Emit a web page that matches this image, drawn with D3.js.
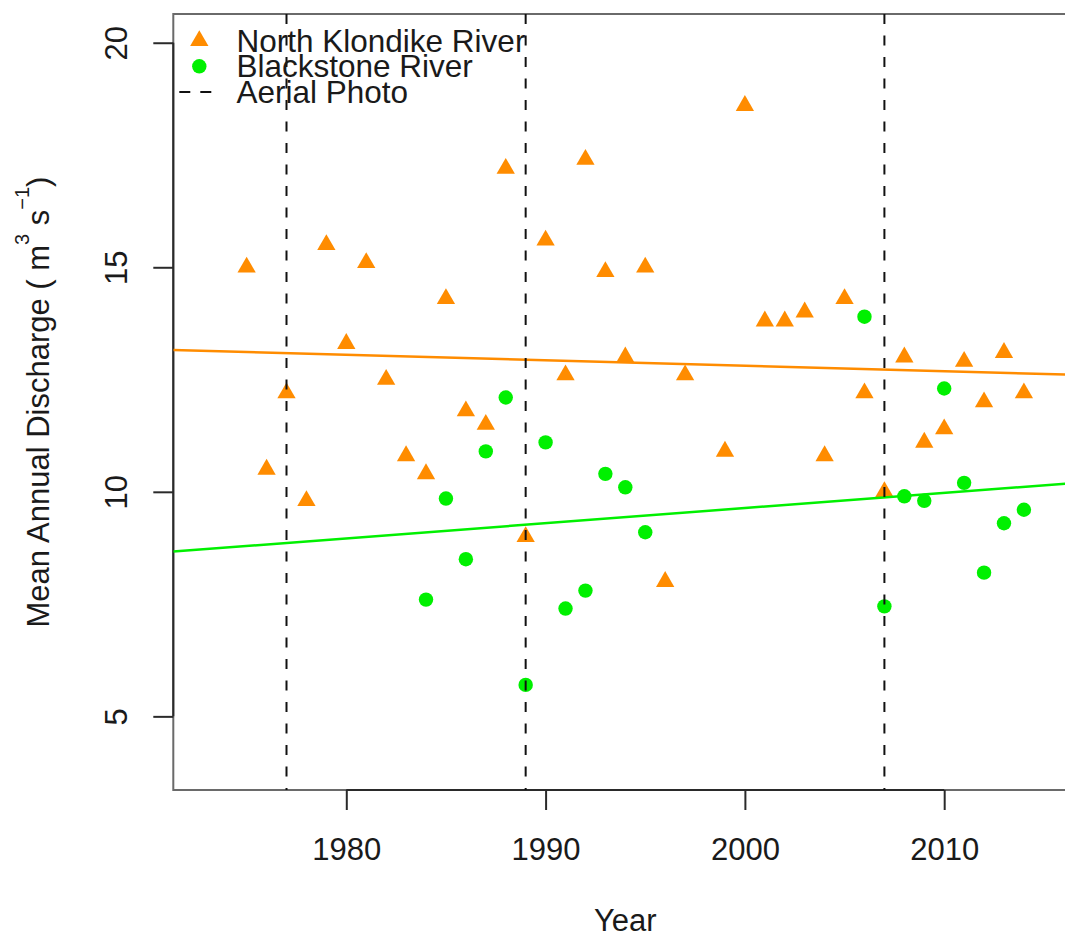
<!DOCTYPE html>
<html>
<head>
<meta charset="utf-8">
<script src="https://cdn.jsdelivr.net/npm/d3@7"></script>
<style>
  html, body { margin: 0; padding: 0; background: #ffffff; }
  svg { display: block; }
  text { font-family: "Liberation Sans", Arial, Helvetica, sans-serif; fill: #1a1a1a; }
</style>
</head>
<body>
<svg id="chart" width="1065" height="937"></svg>
<script>
// Mean annual discharge, North Klondike River (triangles)
const nkYears = [1975, 1976, 1977, 1978, 1979, 1980, 1981, 1982, 1983, 1984,
                 1985, 1986, 1987, 1988, 1989, 1990, 1991, 1992, 1993, 1994,
                 1995, 1996, 1997, 1999, 2000, 2001, 2002, 2003, 2004, 2005,
                 2006, 2007, 2008, 2009, 2010, 2011, 2012, 2013, 2014];
const nkFlow  = [15.0, 10.5, 12.2, 9.8, 15.5, 13.3, 15.1, 12.5, 10.8, 10.4,
                 14.3, 11.8, 11.5, 17.2, 9.0, 15.6, 12.6, 17.4, 14.9, 13.0,
                 15.0, 8.0, 12.6, 10.9, 18.6, 13.8, 13.8, 14.0, 10.8, 14.3,
                 12.2, 10.0, 13.0, 11.1, 11.4, 12.9, 12.0, 13.1, 12.2];

// Mean annual discharge, Blackstone River (circles)
const bsYears = [1984, 1985, 1986, 1987, 1988, 1989, 1990, 1991, 1992, 1993,
                 1994, 1995, 2006, 2007, 2008, 2009, 2010, 2011, 2012, 2013, 2014];
const bsFlow  = [7.6, 9.85, 8.5, 10.9, 12.1, 5.7, 11.1, 7.4, 7.8, 10.4,
                 10.1, 9.1, 13.9, 7.45, 9.9, 9.8, 12.3, 10.2, 8.2, 9.3, 9.6];

// Years with aerial photography
const photoYears = [1977, 1989, 2007];

// Axis limits and ticks
const xLimits = [1973, 2015];
const yLimits = [4, 20];
const xTicks = [1980, 1990, 2000, 2010];
const yTicks = [5, 10, 15, 20];

const legendLabels = ["North Klondike River", "Blackstone River", "Aerial Photo"];

const orange = "#ff8c00";
const green = "#00f000";

// R-style 4% padding on both axis ranges
function pad(lim) {
  const d = (lim[1] - lim[0]) * 0.04;
  return [lim[0] - d, lim[1] + d];
}

const plot = { left: 173.3, top: 14, bottom: 790 };
const xDom = pad(xLimits), yDom = pad(yLimits);
const pxPerYear = 19.93;
plot.right = plot.left + (xDom[1] - xDom[0]) * pxPerYear;

const x = d3.scaleLinear().domain(xDom).range([plot.left, plot.right]);
const y = d3.scaleLinear().domain(yDom).range([plot.bottom, plot.top]);

const svg = d3.select("#chart");

svg.append("clipPath").attr("id", "plotClip")
  .append("rect")
  .attr("x", plot.left).attr("y", plot.top)
  .attr("width", plot.right - plot.left).attr("height", plot.bottom - plot.top);

// Plot frame
svg.append("rect")
  .attr("x", plot.left).attr("y", plot.top)
  .attr("width", plot.right - plot.left).attr("height", plot.bottom - plot.top)
  .attr("fill", "none").attr("stroke", "#6a6a6a").attr("stroke-width", 2);

// Axes
const xAxis = d3.axisBottom(x).tickValues(xTicks).tickSize(20).tickPadding(0).tickFormat(d3.format("d"));
const gx = svg.append("g").attr("transform", `translate(0,${plot.bottom})`).call(xAxis);
gx.select(".domain").remove();
gx.append("line")
  .attr("x1", x(xTicks[0])).attr("x2", x(xTicks[xTicks.length - 1]))
  .attr("stroke", "#2a2a2a").attr("stroke-width", 2);
gx.selectAll(".tick line").attr("stroke", "#2a2a2a").attr("stroke-width", 2);
gx.selectAll(".tick text")
  .attr("y", 70).attr("dy", null)
  .style("font-size", "31px").attr("fill", "#1a1a1a");

const yAxis = d3.axisLeft(y).tickValues(yTicks).tickSize(20).tickPadding(0).tickFormat(d3.format("d"));
const gy = svg.append("g").attr("transform", `translate(${plot.left},0)`).call(yAxis);
gy.select(".domain").remove();
gy.append("line")
  .attr("y1", y(yTicks[0])).attr("y2", y(yTicks[yTicks.length - 1]))
  .attr("stroke", "#2a2a2a").attr("stroke-width", 2);
gy.selectAll(".tick line").attr("stroke", "#2a2a2a").attr("stroke-width", 2);
gy.selectAll(".tick text")
  .attr("x", null).attr("dy", null)
  .attr("text-anchor", "middle")
  .attr("transform", "translate(-46,0) rotate(-90)")
  .style("font-size", "31px").attr("fill", "#1a1a1a");

// Axis titles
svg.append("text")
  .attr("x", (plot.left + plot.right) / 2).attr("y", 931)
  .attr("text-anchor", "middle").style("font-size", "31px")
  .text("Year");

const yTitle = svg.append("text")
  .attr("transform", `translate(49,${(plot.top + plot.bottom) / 2}) rotate(-90)`)
  .attr("text-anchor", "middle").style("font-size", "31px");
yTitle.append("tspan").text("Mean Annual Discharge ( m");
yTitle.append("tspan").attr("dy", -20).style("font-size", "20px").text("3");
yTitle.append("tspan").attr("dy", 20).text(" s");
yTitle.append("tspan").attr("dy", -20).style("font-size", "20px").text("\u22121");
yTitle.append("tspan").attr("dy", 20).text(")");

// Data layer
const layer = svg.append("g").attr("clip-path", "url(#plotClip)");

const triangle = d3.symbol().type(d3.symbolTriangle).size(145);

layer.selectAll("path.nk")
  .data(nkYears.map((yr, i) => [yr, nkFlow[i]]))
  .join("path").attr("class", "nk")
  .attr("d", triangle)
  .attr("transform", d => `translate(${x(d[0])},${y(d[1])})`)
  .attr("fill", orange);

layer.selectAll("circle.bs")
  .data(bsYears.map((yr, i) => [yr, bsFlow[i]]))
  .join("circle").attr("class", "bs")
  .attr("cx", d => x(d[0])).attr("cy", d => y(d[1]))
  .attr("r", 7.2)
  .attr("fill", green);

// Least-squares trend lines across the full plot width
function fit(xs, ys) {
  const mx = d3.mean(xs), my = d3.mean(ys);
  let sxy = 0, sxx = 0;
  xs.forEach((v, i) => { sxy += (v - mx) * (ys[i] - my); sxx += (v - mx) * (v - mx); });
  const b = sxy / sxx;
  return t => my + b * (t - mx);
}

[[nkYears, nkFlow, orange], [bsYears, bsFlow, green]].forEach(([xs, ys, col]) => {
  const f = fit(xs, ys);
  layer.append("line")
    .attr("x1", x(xDom[0])).attr("y1", y(f(xDom[0])))
    .attr("x2", x(xDom[1])).attr("y2", y(f(xDom[1])))
    .attr("stroke", col).attr("stroke-width", 2.5);
});

// Aerial photo years
layer.selectAll("line.photo")
  .data(photoYears)
  .join("line").attr("class", "photo")
  .attr("x1", d => x(d)).attr("x2", d => x(d))
  .attr("y1", plot.top).attr("y2", plot.bottom)
  .attr("stroke", "#111").attr("stroke-width", 2)
  .attr("stroke-dasharray", "10,11.5");

// Legend
const legend = svg.append("g");
const rowY = [40.7, 66.3, 92];
const symX = 199.3, textX = 236.5;

legend.append("path")
  .attr("d", triangle)
  .attr("transform", `translate(${symX},${rowY[0]})`)
  .attr("fill", orange);
legend.append("circle")
  .attr("cx", symX).attr("cy", rowY[1]).attr("r", 7.2)
  .attr("fill", green);
legend.append("line")
  .attr("x1", symX - 20).attr("x2", symX + 12.5)
  .attr("y1", rowY[2]).attr("y2", rowY[2])
  .attr("stroke", "#111").attr("stroke-width", 2)
  .attr("stroke-dasharray", "11,10");

legend.selectAll("text")
  .data(legendLabels)
  .join("text")
  .attr("x", textX).attr("y", (d, i) => rowY[i] + 11)
  .style("font-size", "31.5px")
  .text(d => d);
</script>
</body>
</html>
